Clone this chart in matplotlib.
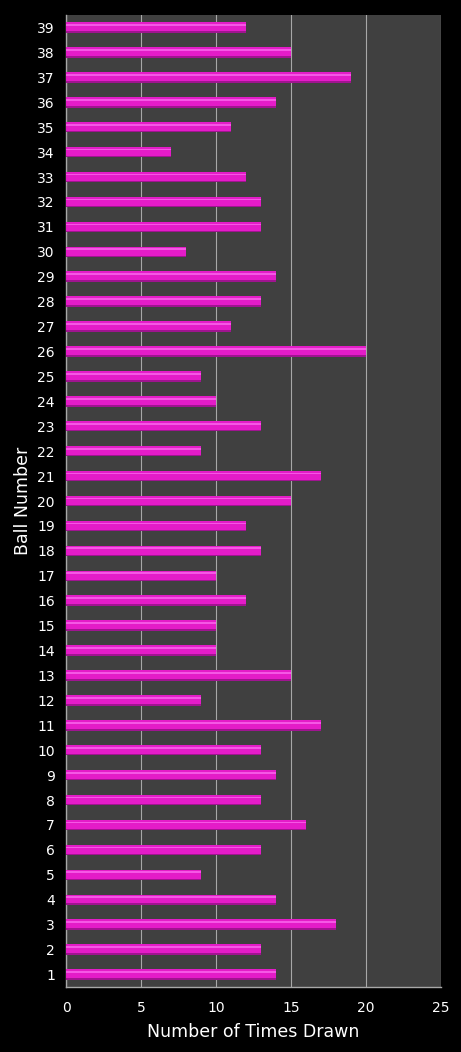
import matplotlib

matplotlib.use("Agg")
import matplotlib.pyplot as plt
import numpy as np

BALLS = list(range(1, 40))
TIMES_DRAWN = [14, 13, 18, 14, 9, 13, 16, 13, 14, 13,
               17, 9, 15, 10, 10, 12, 10, 13, 12, 15,
               17, 9, 13, 10, 9, 20, 11, 13, 14, 8,
               13, 13, 12, 7, 11, 14, 19, 15, 12]

PINK = "#e41cc8"
PINK_LIGHT = "#f458e4"
PINK_DARK = "#a01490"
PLOT_BG = "#404040"
GRID = "#a8a8a8"

fig = plt.figure(figsize=(4.61, 10.52), dpi=100, facecolor="black")
ax = fig.add_axes([0.1432, 0.0618, 0.8134, 0.9239])
ax.set_facecolor(PLOT_BG)

y = np.arange(len(BALLS))
h = 0.42
# shaded cylinder look: dark edge at the bottom, main colour, thin highlight near top
ax.barh(y, TIMES_DRAWN, height=h, color=PINK_DARK, zorder=3)
ax.barh(y + 0.03, TIMES_DRAWN, height=h - 0.06, color=PINK, zorder=4)
ax.barh(y + 0.1, TIMES_DRAWN, height=0.07, color=PINK_LIGHT, zorder=5)

ax.set_xlim(0, 25)
ax.set_ylim(-0.5, len(BALLS) - 0.5)
ax.set_xticks([0, 5, 10, 15, 20, 25])
ax.set_yticks(y)
ax.set_yticklabels([str(b) for b in BALLS])
ax.xaxis.grid(True, color=GRID, linewidth=0.8, zorder=1)
ax.set_axisbelow(True)

ax.tick_params(colors="white", labelsize=10, length=0)
ax.tick_params(axis="x", pad=10)
ax.tick_params(axis="y", pad=8)
for side in ("top", "right"):
    ax.spines[side].set_visible(False)
for side in ("left", "bottom"):
    ax.spines[side].set_color(GRID)
    ax.spines[side].set_linewidth(1)

ax.set_xlabel("Number of Times Drawn", color="white", fontsize=12.5, labelpad=6)
ax.set_ylabel("Ball Number", color="white", fontsize=12.5, labelpad=4)

fig.savefig("out.png", dpi=100, facecolor="black")
